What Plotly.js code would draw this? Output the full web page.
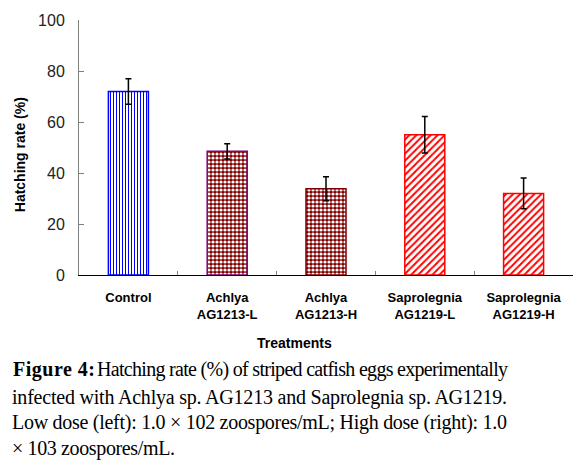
<!DOCTYPE html>
<html>
<head>
<meta charset="utf-8">
<script src="https://cdn.plot.ly/plotly-3.0.1.min.js"></script>
<style>html,body{margin:0;padding:0;background:#fff;}#chart{width:585px;height:471px;}</style>
</head>
<body>
<div id="chart"></div>
<script>
// ---- data ----
var categories = ['Control', 'Achlya<br>AG1213-L', 'Achlya<br>AG1213-H', 'Saprolegnia<br>AG1219-L', 'Saprolegnia<br>AG1219-H'];
var hatchRate = [72, 48.5, 33.8, 55, 32];
var hatchErr = [5, 3, 4.7, 7.2, 6];
var yTickVals = [0, 20, 40, 60, 80, 100];
var yAxisTitle = 'Hatching rate (%)';
var xAxisTitle = 'Treatments';
var captionLines = [
  'Hatching rate (%) of striped catfish eggs experimentally',
  'infected with Achlya sp. AG1213 and Saprolegnia sp. AG1219.',
  'Low dose (left): 1.0 \u00d7 102 zoospores/mL; High dose (right): 1.0',
  '\u00d7 103 zoospores/mL.'
];
var captionLabel = 'Figure 4:';

// ---- styles ----
var lineColors = ['#0000ff', '#800080', '#800000', '#ff0000', '#ff0000'];
var patShapes = ['|', '.', '.', '/', '/'];
var patFg = ['#0000ff', '#ffffff', '#ffffff', '#ff0000', '#ff0000'];
var patBg = ['#ffffff', '#800000', '#800000', '#ffffff', '#ffffff'];
var patSize = [3, 4, 4, 5, 5];
var patSolid = [0.35, 0.5, 0.5, 0.4, 0.4];

var L = 79, R = 573, T = 19.5, B = 275;
function px2x(p) { return (p - L) / (R - L); }
function px2y(p) { return (B - p) / (B - T); }

var traces = categories.map(function (c, i) {
  return {
    type: 'bar',
    x: [c],
    y: [hatchRate[i]],
    width: 0.405,
    marker: {
      color: patBg[i],
      line: {color: lineColors[i], width: 1.5},
      pattern: {shape: patShapes[i], fgcolor: patFg[i], bgcolor: patBg[i], size: patSize[i], solidity: patSolid[i], fillmode: 'replace'}
    },
    error_y: {type: 'data', array: [hatchErr[i]], visible: true, color: '#000000', thickness: 1.5, width: 3},
    hoverinfo: 'none'
  };
});

var serif = 'Liberation Serif, Times New Roman, serif';
var capY = [370, 397.5, 423, 448.5];
var annotations = [
  {text: '<b>' + yAxisTitle + '</b>', textangle: -90, x: px2x(20), y: px2y(155), xref: 'paper', yref: 'paper', showarrow: false, xanchor: 'center', yanchor: 'middle', font: {family: 'Liberation Sans, Arial, sans-serif', size: 14, color: '#000'}},
  {text: '<b>' + xAxisTitle + '</b>', x: px2x(294), y: px2y(343), xref: 'paper', yref: 'paper', showarrow: false, xanchor: 'center', yanchor: 'middle', font: {family: 'Liberation Sans, Arial, sans-serif', size: 14, color: '#000'}},
  {text: '<b>' + captionLabel + '</b>', x: px2x(13), y: px2y(capY[0]), xref: 'paper', yref: 'paper', showarrow: false, xanchor: 'left', yanchor: 'middle', font: {family: serif, size: 20, color: '#000'}},
  {text: captionLines[0], x: px2x(96), y: px2y(capY[0]), xref: 'paper', yref: 'paper', showarrow: false, xanchor: 'left', yanchor: 'middle', font: {family: serif, size: 20, color: '#000'}},
  {text: captionLines[1], x: px2x(12), y: px2y(capY[1]), xref: 'paper', yref: 'paper', showarrow: false, xanchor: 'left', yanchor: 'middle', font: {family: serif, size: 20, color: '#000'}},
  {text: captionLines[2], x: px2x(12), y: px2y(capY[2]), xref: 'paper', yref: 'paper', showarrow: false, xanchor: 'left', yanchor: 'middle', font: {family: serif, size: 20, color: '#000'}},
  {text: captionLines[3], x: px2x(12), y: px2y(capY[3]), xref: 'paper', yref: 'paper', showarrow: false, xanchor: 'left', yanchor: 'middle', font: {family: serif, size: 20, color: '#000'}}
];
// target horizontal extents [left, right] in px for the justified caption lines (annotation index)
var justify = {2: [13, 95], 3: [97, 508], 4: [12, 507], 5: [12, 507], 6: [12, 175]};

var layout = {
  width: 585, height: 471,
  margin: {l: L, r: 585 - R, t: T, b: 471 - B, pad: 0},
  paper_bgcolor: '#ffffff', plot_bgcolor: '#ffffff',
  showlegend: false,
  barmode: 'overlay',
  xaxis: {
    type: 'category', categoryorder: 'array', categoryarray: categories,
    range: [-0.5, 4.5], tickson: 'boundaries',
    ticks: 'inside', ticklen: 4, tickcolor: '#808080', tickwidth: 1,
    showline: true, linecolor: '#000000', linewidth: 1.2,
    showgrid: false, zeroline: false,
    tickfont: {family: 'Liberation Sans, Arial, sans-serif', size: 13, color: '#000', weight: 'bold'},
    ticklabelstandoff: 10
  },
  yaxis: {
    range: [0, 100], tickvals: yTickVals, ticks: 'inside', ticklen: 5, tickcolor: '#808080', tickwidth: 1,
    showline: true, linecolor: '#808080', linewidth: 1,
    showgrid: false, zeroline: false,
    tickfont: {family: 'Liberation Sans, Arial, sans-serif', size: 16, color: '#222'},
    ticklabelstandoff: 10
  },
  annotations: annotations
};

Plotly.newPlot('chart', traces, layout, {staticPlot: true, displayModeBar: false}).then(function (gd) {
  Object.keys(justify).forEach(function (k) {
    var el = gd.querySelector('.annotation[data-index="' + k + '"] text.annotation-text');
    if (!el) return;
    var ext = justify[k];
    el.setAttribute('textLength', ext[1] - ext[0]);
    el.setAttribute('lengthAdjust', 'spacing');
    var r = el.getBoundingClientRect();
    var dx = ext[0] - r.left;
    var x0 = parseFloat(el.getAttribute('x')) || 0;
    el.setAttribute('x', x0 + dx);
  });
});
</script>
</body>
</html>
